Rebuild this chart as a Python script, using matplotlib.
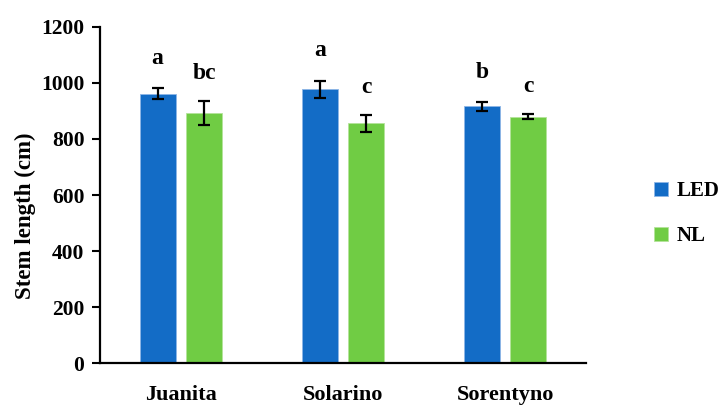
import matplotlib
matplotlib.use("Agg")
import matplotlib.pyplot as plt
import numpy as np

# values
cultivars = ["Juanita", "Solarino", "Sorentyno"]
led_mean = [961, 977, 916]
led_err = [20, 31, 15]
nl_mean = [892, 856, 880]
nl_err = [43, 30, 10]
led_letters = ["a", "a", "b"]
nl_letters = ["bc", "c", "c"]

plt.rcParams['font.family'] = ['Liberation Serif', 'DejaVu Serif']
plt.rcParams['font.weight'] = 'bold'

blue = "#136CC6"
green = "#70CC44"

fig = plt.figure(figsize=(7.23, 4.08), dpi=100)
ax = fig.add_axes([0.138, 0.110, 0.673, 0.824])

x = np.arange(len(cultivars))
w = 0.222
off = 0.143

ekw = dict(ecolor="black", elinewidth=1.6, capsize=4, capthick=1.6)
b1 = ax.bar(x - off, led_mean, w, yerr=led_err, color=blue, edgecolor="#8DB6E6",
            linewidth=0.6, error_kw=ekw, label="LED", zorder=2)
b2 = ax.bar(x + off, nl_mean, w, yerr=nl_err, color=green, edgecolor="#B4E39A",
            linewidth=0.6, error_kw=ekw, label="NL", zorder=2)

# significance letters above error bars
for i in range(len(cultivars)):
    ax.text(x[i] - off, led_mean[i] + led_err[i] + 70, led_letters[i],
            ha="center", va="bottom", fontsize=17, fontweight="bold")
    ax.text(x[i] + off, nl_mean[i] + nl_err[i] + 60, nl_letters[i],
            ha="center", va="bottom", fontsize=17, fontweight="bold")

ax.set_xlim(-0.5, 2.5)
ax.set_ylim(0, 1200)
ax.set_yticks(range(0, 1201, 200))
ax.set_xticks(x)
ax.set_xticklabels(cultivars, fontsize=16, fontweight="bold")
ax.tick_params(axis="x", length=0, pad=16)
ax.tick_params(axis="y", direction="out", length=6, width=1.5, labelsize=15.5, pad=5)
for lab in ax.get_yticklabels():
    lab.set_fontweight("bold")

ax.spines["top"].set_visible(False)
ax.spines["right"].set_visible(False)
ax.spines["left"].set_linewidth(1.6)
ax.spines["bottom"].set_linewidth(1.6)

ax.set_ylabel("Stem length (cm)", fontsize=16.5, fontweight="bold")
ax.yaxis.set_label_coords(-0.131, 0.4375)

fig.legend(handles=[b1, b2], labels=["LED", "NL"], loc="center left",
           bbox_to_anchor=(0.905, 0.476), frameon=False, fontsize=15,
           handlelength=0.65, handleheight=0.65, handletextpad=0.4,
           labelspacing=1.2, borderpad=0, borderaxespad=0)

fig.savefig("out.png", dpi=100)
